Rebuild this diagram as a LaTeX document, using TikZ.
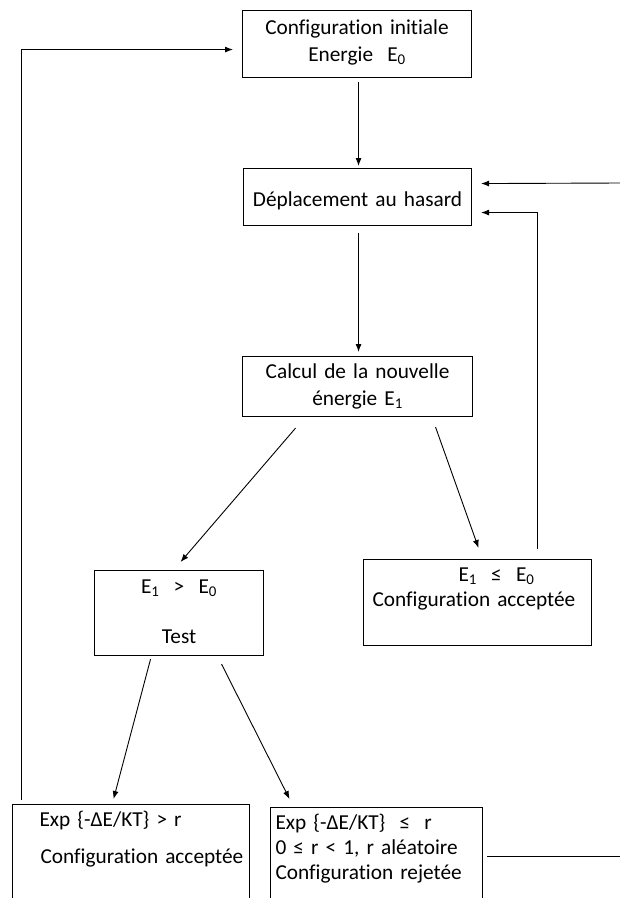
\documentclass[tikz,border=0pt]{standalone}
\usepackage{fontspec}
\setmainfont{Carlito}[Ligatures=NoCommon,WordSpace=0.85]
\usetikzlibrary{arrows.meta}

\begin{document}
\begin{tikzpicture}[x=1pt,y=-1pt,>={Latex[length=8pt,width=6pt]},
	box/.style={draw,line width=1.1pt,anchor=north west,inner ysep=0pt,inner xsep=0pt,font=\fontsize{21.3}{25}\selectfont},
	mid/.style={box,align=center},
	lft/.style={box,align=left},
	link/.style={->,line width=0.9pt}]
	\fill[white] (0,0) rectangle (620,898);
	\useasboundingbox (0,0) rectangle (620,898);
	\node[mid,text width=229pt,text height=24pt,text depth=43pt] (init) at (242,10) {Configuration initiale\\[2pt]Energie~ E\textsubscript{0}};
	\node[mid,text width=228pt,text height=38pt,text depth=19pt] (depl) at (243,168) {Déplacement au hasard};
	\node[mid,text width=230pt,text height=22pt,text depth=38pt] (calc) at (242,356) {Calcul de la nouvelle\\[2pt]énergie E\textsubscript{1}};
	\node[mid,text width=169pt,text height=23pt,text depth=62pt] (test) at (94,570) {E\textsubscript{1}~ >~ E\textsubscript{0}\\[25pt]Test};
	\node[lft,inner xsep=9pt,text width=210pt,text height=22pt,text depth=64pt] (accA) at (363,559) {\hspace*{86pt}E\textsubscript{1}~ ≤~ E\textsubscript{0}\\Configuration acceptée};
	\node[lft,text width=237pt,text height=22pt,text depth=110pt] (accB) at (12,804) {\hspace*{27pt}Exp \{-ΔE/KT\} > r\\[12pt]\hspace*{28pt}Configuration acceptée};
	\node[lft,inner xsep=5pt,text width=202pt,text height=22pt,text depth=110pt] (rej) at (270,807) {Exp \{-ΔE/KT\}~ ≤~ r\\0 ≤ r < 1, r aléatoire\\Configuration rejetée};
	\coordinate (edgeT) at (620,183);
	\coordinate (edgeB) at (620,856);
	\draw[link] ([xshift=1.5pt,yshift=-4pt]init.south) -- ([xshift=1pt,yshift=2pt]depl.north);
	\draw[link] ([xshift=1pt,yshift=-7pt]depl.south) -- ([xshift=1pt,yshift=4pt]calc.north);
	\draw[link] ([xshift=-62pt,yshift=-11pt]calc.south) -- ([xshift=1.5pt,yshift=8pt]test.north);
	\draw[link] ([xshift=78pt,yshift=-10pt]calc.south) -- ([xshift=1pt,yshift=11pt]accA.north);
	\draw[link] ([xshift=60pt,yshift=10pt]accA.north) |- ([xshift=9pt,yshift=-15.5pt]depl.east);
	\draw[link] (edgeT) -- ([xshift=9pt,yshift=13.5pt]depl.east);
	\draw[link] ([xshift=-28.5pt,yshift=-3pt]test.south) -- ([xshift=-17.5pt,yshift=5pt]accB.north);
	\draw[link] ([xshift=42.5pt,yshift=-8pt]test.south) -- ([xshift=-87pt,yshift=8pt]rej.north);
	\draw[link] ([xshift=9pt,yshift=4pt]accB.north west) |- ([xshift=-9pt,yshift=-5.5pt]init.west);
	\draw[line width=0.9pt,shorten >=4pt] (edgeB) -- (edgeB -| rej.east);
\end{tikzpicture}
\end{document}
